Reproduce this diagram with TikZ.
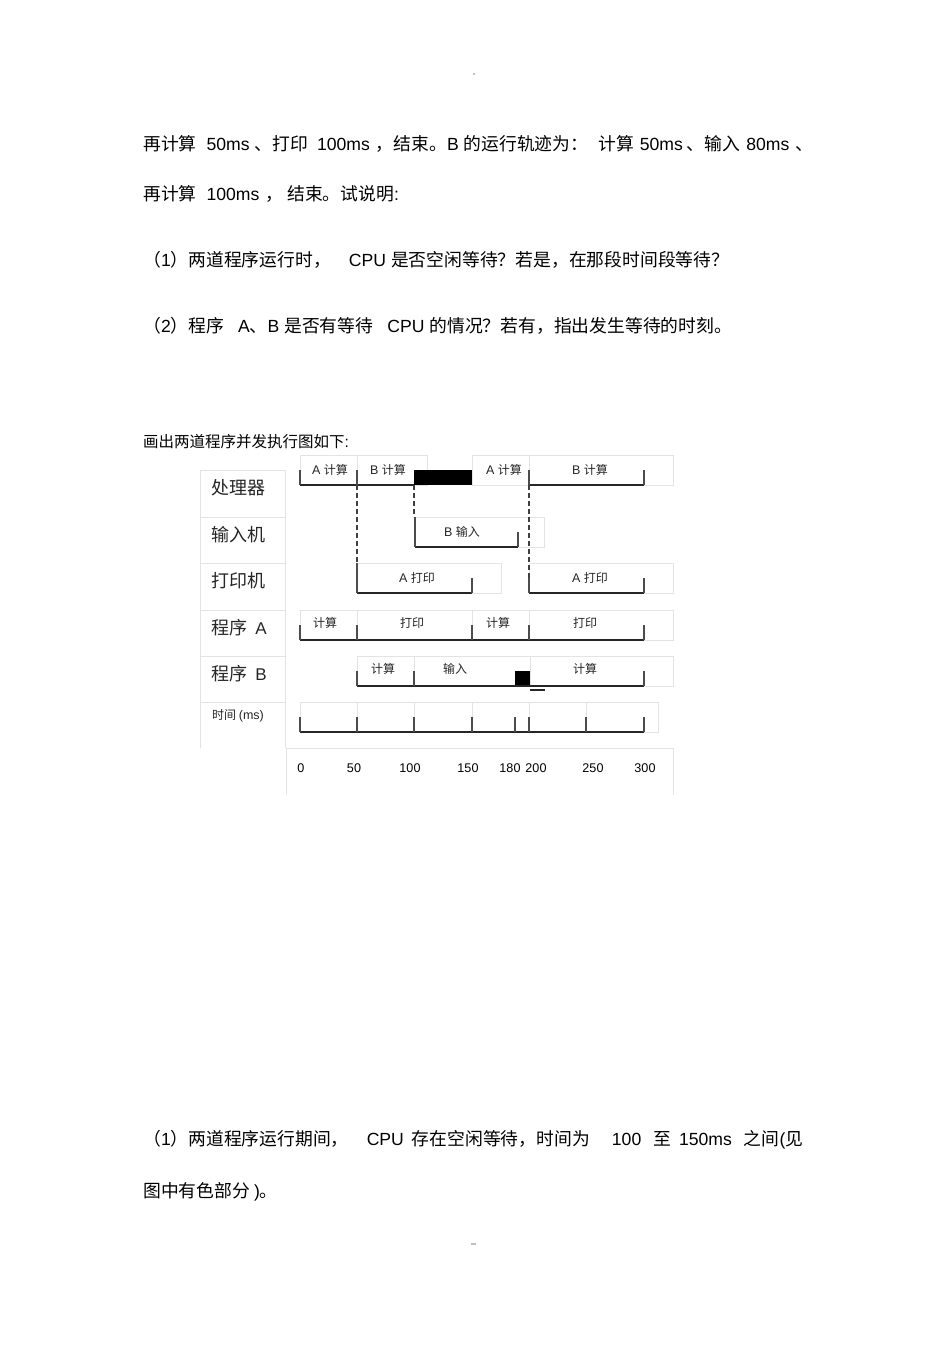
\documentclass[tikz,border=0pt]{standalone}
\usepackage{fontspec}
\setmainfont{Liberation Sans}
\newfontfamily\latinfont{Liberation Sans}
\newfontfamily\cjk{Noto Sans CJK SC}
\newcommand\cjksize{16}
\newcommand\latsize{18}
% switch to the CJK font (and its own size) for Chinese characters
\XeTeXinterchartokenstate=1
\newXeTeXintercharclass\cjkclass
\count255="3000
\loop\XeTeXcharclass\count255=\cjkclass\ifnum\count255<"9FFF\advance\count255 by 1\repeat
\count255="FF00
\loop\XeTeXcharclass\count255=\cjkclass\ifnum\count255<"FFEF\advance\count255 by 1\repeat
\XeTeXinterchartoks 0 \cjkclass={\fontsize{\cjksize}{\cjksize}\cjk}
\XeTeXinterchartoks 4095 \cjkclass={\fontsize{\cjksize}{\cjksize}\cjk}
\XeTeXinterchartoks \cjkclass 0={\fontsize{\latsize}{\latsize}\latinfont}
\XeTeXinterchartoks 4095 0={\fontsize{\latsize}{\latsize}\latinfont}
\usepackage{tikz}
\tikzstyle{body} = [anchor=west, inner sep=0pt, font={\def\cjksize{17.8}\def\latsize{17.6}\fontsize{17.6}{22}\selectfont}]
\tikzstyle{heading} = [anchor=west, inner sep=0pt, font={\def\cjksize{15.5}\def\latsize{15.5}\fontsize{15.5}{19}\selectfont}]
\tikzstyle{rowname} = [anchor=west, inner sep=0pt, black!85, font={\def\cjksize{18}\def\latsize{17}\fontsize{17}{20}\selectfont}]
\tikzstyle{job} = [inner sep=0pt, black!85, font={\def\cjksize{12}\def\latsize{12.5}\fontsize{12.5}{15}\selectfont}]
\tikzstyle{timelbl} = [inner sep=0pt, font={\def\latsize{12.6}\fontsize{12.6}{15}\selectfont}]
\tikzstyle{grid} = [draw=gray!22, line width=0.9pt]
\tikzstyle{track} = [draw=black!85, line width=1.2pt]
\tikzstyle{tick} = [draw=gray!60!black, line width=1.6pt]
\tikzstyle{link} = [draw=gray!50!black, line width=1.3pt, dash pattern=on 5pt off 3pt]

\begin{document}
\begin{tikzpicture}[x=1pt,y=-1pt]
    \useasboundingbox[fill=white] (0,0) rectangle (950,1345);
    \fill[gray!50] (473,73) rectangle (475,75);
    \fill[gray!50] (471,1243) rectangle (476,1245);
    % question text
    \node[body](l1) at (143,144){再计算\hspace{10pt}50ms\hspace{5pt}、打印\hspace{9pt}100ms\hspace{6pt}，结束。B 的运行轨迹为：\hspace{10pt}计算\hspace{6pt}50ms\hspace{4pt}、输入\hspace{6pt}80ms\hspace{6pt}、};
    \node[body](l2) at (143,194){再计算\hspace{10pt}100ms\hspace{6pt}，\hspace{4pt}结束。试说明:};
    \node[body](q1) at (143,260){（1）两道程序运行时，\hspace{18pt}CPU 是否空闲等待？若是，在那段时间段等待？};
    \node[body](q2) at (143,326){（2）程序\hspace{14pt}A、B 是否有等待\hspace{14pt}CPU 的情况？若有，指出发生等待的时刻。};
    \node[heading](title) at (143,442){画出两道程序并发执行图如下:};
    % label column
    \draw[grid] (200,470) -- (200,748) (285,470) -- (285,748);
    \foreach \y in {470,517,563,610,656,702} \draw[grid] (200,\y) -- (285,\y);
    \draw[grid] (286,795) -- (286,748) -- (673,748) -- (673,795);
    \node[rowname](cpu) at (211,488){处理器};
    \node[rowname](inp) at (211,535){输入机};
    \node[rowname](prn) at (211,581){打印机};
    \node[rowname](pa) at (211,628){程序 \ A};
    \node[rowname](pb) at (211,674){程序 \ B};
    \node[job,anchor=west](tm) at (212,716){时间 (ms)};
    % processor
    \draw[grid] (300,455) rectangle (357,485) (357,455) rectangle (427,485) (472,455) rectangle (529,485) (529,455) rectangle (673,485);
    \fill (414,470) rectangle (472,485);
    \draw[track] (300,485) -- (414,485) (529,485) -- (644,485);
    \draw[tick] (300,470) -- (300,485) (357,470) -- (357,485) (529,470) -- (529,485) (644,470) -- (644,485);
    \node[job](c1) at (330,470){A 计算};
    \node[job](c2) at (388,470){B 计算};
    \node[job](c3) at (504,470){A 计算};
    \node[job](c4) at (590,470){B 计算};
    % input
    \draw[grid] (415,517) rectangle (544,547);
    \draw[track] (415,547) -- (518,547);
    \draw[tick] (415,517) -- (415,547) (518,532) -- (518,547);
    \node[job](i1) at (462,532){B 输入};
    % printer
    \draw[grid] (357,563) rectangle (501,593) (529,563) rectangle (673,593);
    \draw[track] (357,593) -- (472,593) (529,593) -- (644,593);
    \draw[tick] (357,563) -- (357,593) (472,578) -- (472,593) (529,578) -- (529,593) (644,578) -- (644,593);
    \node[job](p1) at (417,578){A 打印};
    \node[job](p2) at (590,578){A 打印};
    % program A
    \draw[grid] (300,610) rectangle (357,640) (357,610) rectangle (472,640) (472,610) rectangle (529,640) (529,610) rectangle (673,640);
    \draw[track] (300,640) -- (644,640);
    \draw[tick] (300,625) -- (300,640) (357,625) -- (357,640) (472,625) -- (472,640) (529,625) -- (529,640) (644,625) -- (644,640);
    \node[job](a1) at (325,623){计算};
    \node[job](a2) at (412,623){打印};
    \node[job](a3) at (498,623){计算};
    \node[job](a4) at (585,623){打印};
    % program B
    \draw[grid] (357,656) rectangle (414,686) (414,656) rectangle (530,686) (530,656) rectangle (673,686);
    \fill (515,671) rectangle (530,686);
    \draw[track] (357,686) -- (644,686) (530,690) -- (545,690);
    \draw[tick] (357,671) -- (357,686) (414,671) -- (414,686) (644,671) -- (644,686);
    \node[job](b1) at (383,669){计算};
    \node[job](b2) at (455,669){输入};
    \node[job](b3) at (585,669){计算};
    % time axis
    \draw[grid] (300,702) rectangle (658,732);
    \foreach \x in {357,414,472,529,586} \draw[grid] (\x,702) -- (\x,732);
    \draw[track] (300,732) -- (644,732);
    \foreach \x in {300,357,414,472,515,529,586,644} \draw[tick] (\x,717) -- (\x,732);
    \foreach \t/\x in {0/301,50/354,100/410,150/468,180/510,200/536,250/593,300/645}
        \node[timelbl](t\t) at (\x,768){\t};
    % hand-over lines
    \draw[link] (357,485) -- (357,563);
    \draw[link] (414,485) -- (414,517);
    \draw[link] (529,485) -- (529,578);
    % answer text
    \node[body](a1txt) at (143,1140){（1）两道程序运行期间，\hspace{18pt}CPU\hspace{8pt}存在空闲等待，时间为\hspace{22pt}100\hspace{12pt}至\hspace{8pt}150ms\hspace{12pt}之间(见};
    \node[body](a2txt) at (143,1192){图中有色部分\hspace{4pt})。};
\end{tikzpicture}
\end{document}
